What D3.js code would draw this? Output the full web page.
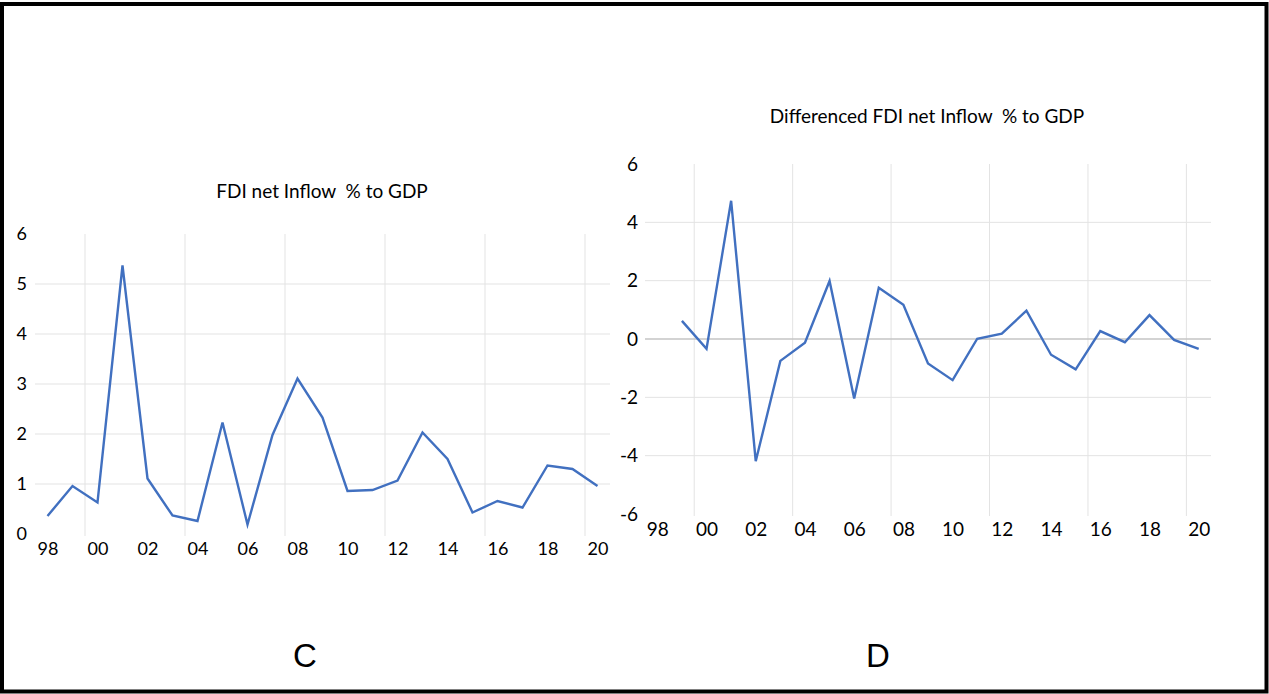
<!DOCTYPE html>
<html>
<head>
  <meta charset="utf-8">
  <title>FDI net Inflow % to GDP</title>
  <style>
    body {
      margin: 0;
      background: #fff;
    }

    svg text {
      font-family: Lato, "Noto Sans", sans-serif;
      fill: #000;
    }

    .grid line {
      stroke: #e3e3e3;
      stroke-width: 1;
    }

    .zero {
      stroke: #c4c4c4;
      stroke-width: 1.3;
    }

    .axis .domain {
      display: none;
    }

    .series {
      fill: none;
      stroke: #4170c0;
      stroke-width: 2.4;
      stroke-linejoin: miter;
    }
  </style>
</head>
<body>
  <div id="chart"></div>

  <script src="https://d3js.org/d3.v7.min.js"></script>
  <script>
    // years shown on both panels
    const years = d3.range(1998, 2021);
    const xTickYears = [1998, 2000, 2002, 2004, 2006, 2008, 2010, 2012, 2014, 2016, 2018, 2020];
    const xTickLabels = ["98", "00", "02", "04", "06", "08", "10", "12", "14", "16", "18", "20"];
    // vertical gridlines sit between categories, every 4 years
    const xGridYears = [1999.5, 2003.5, 2007.5, 2011.5, 2015.5, 2019.5];

    // panel C: FDI net inflow % to GDP, 1998-2020
    const fdiValues = [0.36, 0.96, 0.63, 5.37, 1.11, 0.37, 0.26, 2.23, 0.19, 1.98, 3.11, 2.33,
                       0.86, 0.88, 1.07, 2.03, 1.50, 0.43, 0.66, 0.53, 1.37, 1.30, 0.96];
    const fdiTicks = [0, 1, 2, 3, 4, 5, 6];

    // panel D: differenced series, 1999-2020
    const diffYears = d3.range(1999, 2021);
    const diffValues = [0.62, -0.34, 4.74, -4.19, -0.75, -0.13, 1.99, -2.04, 1.76, 1.17, -0.84,
                        -1.41, 0.01, 0.18, 0.97, -0.54, -1.04, 0.27, -0.11, 0.82, -0.03, -0.34];
    const diffTicks = [-6, -4, -2, 0, 2, 4, 6];

    const W = 1269, H = 694;

    const svg = d3.select("#chart")
      .append("svg")
      .attr("width", W)
      .attr("height", H);

    // outer black frame
    svg.append("rect")
      .attr("x", 2)
      .attr("y", 4)
      .attr("width", 1264.5)
      .attr("height", 687.5)
      .attr("fill", "none")
      .attr("stroke", "#000")
      .attr("stroke-width", 4);

    function drawPanel(opt) {
      const x = d3.scaleLinear()
        .domain([years[0] - 0.5, years[years.length - 1] + 0.5])
        .range([opt.left, opt.right]);

      const y = d3.scaleLinear()
        .domain(d3.extent(opt.ticks))
        .range([opt.bottom, opt.top]);

      const g = svg.append("g");

      // horizontal gridlines (inner ticks only, like the original)
      g.append("g")
        .attr("class", "grid")
        .selectAll("line")
        .data(opt.ticks.slice(1, -1).filter(d => d !== 0 || !opt.zeroLine))
        .enter()
        .append("line")
        .attr("x1", opt.left)
        .attr("x2", opt.right)
        .attr("y1", d => y(d))
        .attr("y2", d => y(d));

      // vertical gridlines
      g.append("g")
        .attr("class", "grid")
        .selectAll("line")
        .data(xGridYears)
        .enter()
        .append("line")
        .attr("x1", d => x(d))
        .attr("x2", d => x(d))
        .attr("y1", opt.top)
        .attr("y2", opt.bottom + 2);

      if (opt.zeroLine) {
        g.append("line")
          .attr("class", "zero")
          .attr("x1", opt.left)
          .attr("x2", opt.right)
          .attr("y1", y(0))
          .attr("y2", y(0));
      }

      // y axis labels (plain hyphen for negatives, as in the original)
      g.append("g")
        .attr("class", "axis")
        .attr("transform", "translate(" + opt.left + ",0)")
        .call(d3.axisLeft(y).tickValues(opt.ticks).tickSize(0).tickPadding(opt.yPad).tickFormat(d => String(d)))
        .selectAll("text")
        .style("font-size", opt.fontSize + "px")
        .attr("font-family", null);

      // x axis labels
      g.append("g")
        .attr("class", "axis")
        .attr("transform", "translate(0," + opt.xAxisY + ")")
        .call(d3.axisBottom(x).tickValues(xTickYears).tickSize(0).tickPadding(0)
          .tickFormat((d, i) => xTickLabels[i]))
        .selectAll("text")
        .style("font-size", opt.fontSize + "px")
        .attr("font-family", null);

      // the series
      const line = d3.line()
        .x((d, i) => x(opt.xs[i]))
        .y(d => y(d));

      g.append("path")
        .datum(opt.values)
        .attr("class", "series")
        .attr("d", line);

      // title
      g.append("text")
        .attr("x", opt.titleX)
        .attr("y", opt.titleY)
        .attr("text-anchor", "middle")
        .style("font-size", opt.titleSize + "px")
        .style("white-space", "pre")
        .text(opt.title);

      // panel letter
      g.append("text")
        .attr("x", opt.letterX)
        .attr("y", 667)
        .attr("text-anchor", "middle")
        .style("font-family", "'Liberation Sans', Arial, sans-serif")
        .style("font-size", "33px")
        .text(opt.letter);
    }

    drawPanel({
      xs: years,
      values: fdiValues,
      ticks: fdiTicks,
      left: 35, right: 610, top: 234, bottom: 534,
      xAxisY: 542, yPad: 8, fontSize: 18,
      title: "FDI net Inflow  % to GDP",
      titleX: 322, titleY: 198, titleSize: 19,
      letter: "C", letterX: 305,
      zeroLine: false
    });

    drawPanel({
      xs: diffYears,
      values: diffValues,
      ticks: diffTicks,
      left: 645, right: 1211, top: 164, bottom: 514,
      xAxisY: 522, yPad: 7, fontSize: 19,
      title: "Differenced FDI net Inflow  % to GDP",
      titleX: 927, titleY: 123, titleSize: 19,
      letter: "D", letterX: 878,
      zeroLine: true
    });
  </script>
</body>
</html>
